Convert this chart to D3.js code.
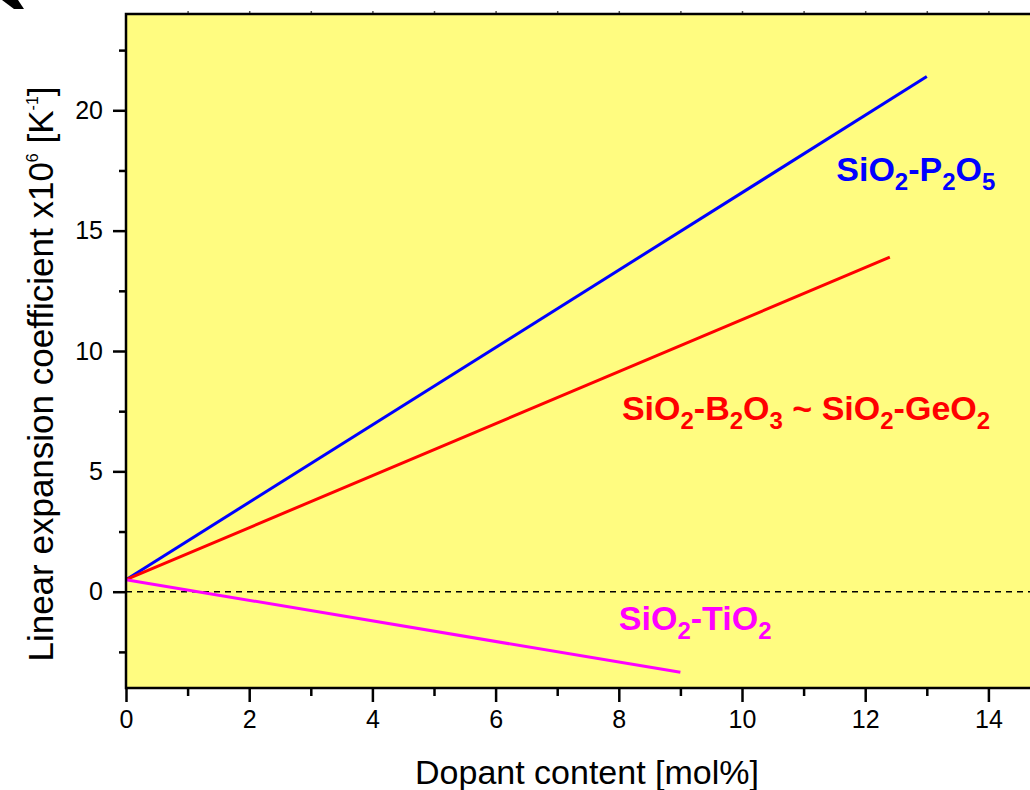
<!DOCTYPE html>
<html><head><meta charset="utf-8">
<script src="https://cdn.jsdelivr.net/npm/d3@7"></script>
<style>body{margin:0;background:#fff}svg{display:block}text{font-family:"Liberation Sans",Arial,sans-serif}</style>
</head><body>
<script>
const xTicks = [0, 2, 4, 6, 8, 10, 12, 14];
const yTicks = [0, 5, 10, 15, 20];
const seriesNames = ["SiO2-P2O5", "SiO2-B2O3 ~ SiO2-GeO2", "SiO2-TiO2"];
const seriesColors = ["#0000ff", "#ff0000", "#ff00ff"];
const seriesX = [[0, 13], [0, 12.4], [0, 9]];
const seriesY = [[0.5, 21.4], [0.5, 13.9], [0.5, -3.35]];
// label anchor positions in data units
const labelX = [11.53, 8.05, 8.0];
const labelY = [17.05, 7.15, -1.6];

const W = 1030, H = 790;
const svg = d3.select("body").append("svg").attr("width", W).attr("height", H);
const x = d3.scaleLinear().domain([0, 15]).range([126, 1050]);
const y = d3.scaleLinear().domain([-4, 24]).range([688, 14]);

// corner artifact
svg.append("path").attr("d", "M2,0 L18,0 L24,9 L14,9 Z").attr("fill", "#000");

svg.append("rect").attr("x", x(0)).attr("y", y(24)).attr("width", x(15) - x(0)).attr("height", y(-4) - y(24))
  .attr("fill", "#fffc80");

// zero dashed line
svg.append("line").attr("x1", x(0)).attr("x2", x(15)).attr("y1", y(0)).attr("y2", y(0))
  .attr("stroke", "#000").attr("stroke-width", 1.5).attr("stroke-dasharray", "6,5");

// lines
const line = d3.line().x(d => x(d[0])).y(d => y(d[1]));
seriesX.forEach((xs, i) => {
  svg.append("path").datum(xs.map((v, j) => [v, seriesY[i][j]]))
    .attr("d", line).attr("fill", "none").attr("stroke", seriesColors[i]).attr("stroke-width", 3);
});

// axes
const xAxis = svg.append("g").attr("transform", `translate(0,${y(-4)})`)
  .call(d3.axisBottom(x).tickValues(xTicks).tickSize(14).tickPadding(8).tickFormat(d3.format("d")));
const xMinor = svg.append("g").attr("transform", `translate(0,${y(-4)})`)
  .call(d3.axisBottom(x).tickValues(d3.range(1, 15, 2)).tickSize(8).tickFormat(""));
const yAxis = svg.append("g").attr("transform", `translate(${x(0)},0)`)
  .call(d3.axisLeft(y).tickValues(yTicks).tickSize(13).tickPadding(10).tickFormat(d3.format("d")));
const yMinor = svg.append("g").attr("transform", `translate(${x(0)},0)`)
  .call(d3.axisLeft(y).tickValues([-2.5, 2.5, 7.5, 12.5, 17.5, 22.5]).tickSize(7).tickFormat(""));
const topAxis = svg.append("g").attr("transform", `translate(0,${y(24)})`)
  .call(d3.axisTop(x).tickValues(d3.range(1, 15, 1)).tickSize(3).tickFormat(""));
[xAxis, xMinor, yAxis, yMinor, topAxis].forEach(g => {
  g.attr("font-size", null).attr("font-family", null);
  g.select(".domain").remove();
  g.selectAll("line").attr("stroke", "#000").attr("stroke-width", 2.5);
  g.selectAll("text").style("font-size", "25px").attr("fill", "#000").style("font-family", "Liberation Sans, Arial, sans-serif");
});
topAxis.selectAll("line").attr("stroke-width", 1.5).attr("stroke", "#555");
// frame
svg.append("path").attr("d", `M${x(15)},${y(24)} L${x(0)},${y(24)} L${x(0)},${y(-4)} L${x(15)},${y(-4)}`)
  .attr("fill", "none").attr("stroke", "#000").attr("stroke-width", 2.5);

// axis titles
svg.append("text").attr("x", 587).attr("y", 784).attr("text-anchor", "middle")
  .style("font-size", "34px").text("Dopant content [mol%]");
const yt = svg.append("text").attr("transform", "translate(53,374) rotate(-90)").attr("text-anchor", "middle")
  .style("font-size", "35px");
yt.append("tspan").text("Linear expansion coefficient x10");
yt.append("tspan").style("font-size", "16px").attr("dy", -15).text("6");
yt.append("tspan").attr("dy", 15).text(" [K");
yt.append("tspan").style("font-size", "16px").attr("dy", -15).text("-1");
yt.append("tspan").attr("dy", 15).text("]");

// series labels with subscripts
function chem(str, tx, ty, color) {
  const t = svg.append("text").attr("x", tx).attr("y", ty).attr("fill", color)
    .attr("font-weight", "bold").style("font-size", "34px");
  let sub = false;
  for (const ch of str) {
    const isDigit = /[0-9]/.test(ch);
    if (isDigit && !sub) { t.append("tspan").attr("dy", 9).style("font-size", "24px").text(ch); sub = true; }
    else if (isDigit && sub) { t.append("tspan").style("font-size", "24px").text(ch); }
    else if (!isDigit && sub) { t.append("tspan").attr("dy", -9).text(ch); sub = false; }
    else { t.append("tspan").text(ch); }
  }
  return t;
}
seriesNames.forEach((n, i) => chem(n, x(labelX[i]), y(labelY[i]), seriesColors[i]));
</script>
</body></html>
